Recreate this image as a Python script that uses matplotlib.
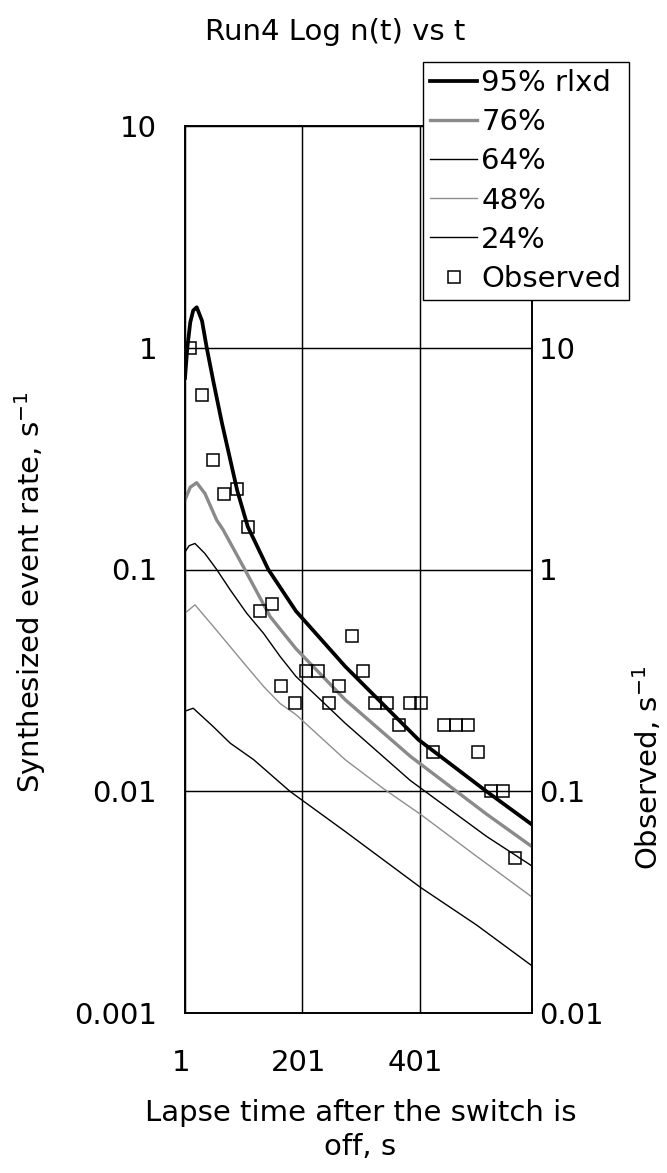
import matplotlib
matplotlib.use("Agg")
import matplotlib.pyplot as plt
import matplotlib.transforms as mtransforms
from matplotlib.ticker import FixedLocator, FixedFormatter, NullLocator

plt.rcParams['font.family'] = ['DejaVu Sans']
plt.rcParams['mathtext.fontset'] = 'dejavusans'
FS = 21

# Synthesized event rate curves (s^-1) for each relaxation fraction
t95 = [1, 5, 10, 15, 21, 30, 38, 50, 64, 90, 108, 143, 190, 274, 399, 515, 592]
n95 = [0.73, 1.0, 1.3, 1.47, 1.52, 1.32, 1.0, 0.69, 0.457, 0.227, 0.156, 0.1,
       0.065, 0.0366, 0.0171, 0.01, 0.0071]

t76 = [1, 10, 21, 35, 55, 66, 103, 146, 190, 274, 385, 515, 592]
n76 = [0.206, 0.235, 0.246, 0.22, 0.167, 0.151, 0.1, 0.0614, 0.044, 0.0259,
       0.0144, 0.0079, 0.00565]

t64 = [1, 8, 18, 35, 55, 78, 106, 135, 163, 190, 274, 385, 515, 592]
n64 = [0.12, 0.128, 0.131, 0.118, 0.1, 0.081, 0.0636, 0.0515, 0.0406, 0.033,
       0.0203, 0.0112, 0.00627, 0.00462]

t48 = [1, 18, 49, 78, 106, 135, 163, 190, 274, 339, 402, 498, 592]
n48 = [0.0636, 0.0693, 0.0555, 0.0449, 0.0366, 0.0297, 0.0249, 0.0222, 0.0139,
       0.0103, 0.0079, 0.0051, 0.00335]

t24 = [1, 15, 49, 78, 118, 180, 274, 402, 498, 592]
n24 = [0.023, 0.0237, 0.0196, 0.0165, 0.0139, 0.01, 0.0066, 0.0037, 0.0025,
       0.00164]

# Observed event rate (s^-1), right-hand axis
t_obs = [9, 30, 49, 67, 90, 108, 128, 149, 165, 188, 208, 228, 246, 264, 286,
         304, 325, 345, 366, 385, 403, 424, 443, 463, 484, 501, 523, 543, 563]
n_obs = [10, 6.1, 3.1, 2.2, 2.3, 1.55, 0.65, 0.7, 0.3, 0.25, 0.35, 0.35, 0.25,
         0.3, 0.5, 0.35, 0.25, 0.25, 0.2, 0.25, 0.25, 0.15, 0.2, 0.2, 0.2,
         0.15, 0.1, 0.1, 0.05]

x_ticks = [1, 201, 401]
left_ticks = [0.001, 0.01, 0.1, 1, 10]
left_labels = ["0.001", "0.01", "0.1", "1", "10"]
right_ticks = [0.01, 0.1, 1, 10]
right_labels = ["0.01", "0.1", "1", "10"]

W, H = 667, 1173
fig = plt.figure(figsize=(W / 100, H / 100), dpi=100)
x0, x1 = 185 / W, 531.7 / W
y0, y1 = 1 - 1013.3 / H, 1 - 125.7 / H
ax = fig.add_axes([x0, y0, x1 - x0, y1 - y0])
ax2 = ax.twinx()

ax.set_yscale("log")
ax2.set_yscale("log")
ax.set_xlim(1, 592)
ax.set_ylim(0.001, 10)
ax2.set_ylim(0.01, 100)

ax.grid(True, which="major", color="black", linewidth=1.05)
ax.set_axisbelow(True)

l95, = ax.plot(t95, n95, color="black", lw=2.7, label="95% rlxd", zorder=5)
l76, = ax.plot(t76, n76, color="#8a8a8a", lw=2.4, label="76%", zorder=4)
l64, = ax.plot(t64, n64, color="black", lw=1.0, label="64%", zorder=4)
l48, = ax.plot(t48, n48, color="#8f8f8f", lw=1.0, label="48%", zorder=4)
l24, = ax.plot(t24, n24, color="black", lw=1.0, label="24%", zorder=4)

obs, = ax2.plot(t_obs, n_obs, linestyle="none", marker="s", markersize=9,
                markerfacecolor="none", markeredgecolor="black",
                markeredgewidth=1.1, label="Observed")

ax.xaxis.set_major_locator(FixedLocator(x_ticks))
ax.xaxis.set_major_formatter(FixedFormatter([str(v) for v in x_ticks]))
ax.yaxis.set_major_locator(FixedLocator(left_ticks))
ax.yaxis.set_major_formatter(FixedFormatter(left_labels))
ax.yaxis.set_minor_locator(NullLocator())
ax2.yaxis.set_major_locator(FixedLocator(right_ticks))
ax2.yaxis.set_major_formatter(FixedFormatter(right_labels))
ax2.yaxis.set_minor_locator(NullLocator())

ax.tick_params(axis="x", length=0, pad=26, labelsize=FS)
ax.tick_params(axis="y", length=0, pad=20, labelsize=FS)
ax2.tick_params(axis="y", length=0, pad=5, labelsize=FS)
shift = mtransforms.ScaledTranslation(-4 / 100, 0, fig.dpi_scale_trans)
for lab in ax.get_xticklabels():
    lab.set_transform(lab.get_transform() + shift)

for a in (ax, ax2):
    for sp in a.spines.values():
        sp.set_color("black")
        sp.set_linewidth(1.2)

fig.text(335 / W, 1 - 32 / H, "Run4 Log n(t) vs t", ha="center", va="center",
         fontsize=FS)
fig.text(30 / W, 1 - 592 / H, r"Synthesized event rate, s$^{-1}$",
         rotation=90, ha="center", va="center", fontsize=FS)
fig.text(648 / W, 1 - 768 / H, r"Observed, s$^{-1}$",
         rotation=90, ha="center", va="center", fontsize=FS)
fig.text(x0 + (x1 - x0) / 2 + 2 / W, 1 - 1130 / H,
         "Lapse time after the switch is\noff, s", ha="center", va="center",
         fontsize=FS, linespacing=1.3)

leg = ax2.legend(handles=[l95, l76, l64, l48, l24, obs],
                 loc="upper left", bbox_to_anchor=(423 / W, 1 - 62 / H),
                 bbox_transform=fig.transFigure, fontsize=FS,
                 frameon=True, fancybox=False, framealpha=1.0,
                 edgecolor="black", borderpad=0.25, labelspacing=0.38,
                 handlelength=1.6, handletextpad=0.15, borderaxespad=0)
leg.get_frame().set_linewidth(1.0)
leg.set_zorder(20)

fig.savefig("out.png", dpi=100)
